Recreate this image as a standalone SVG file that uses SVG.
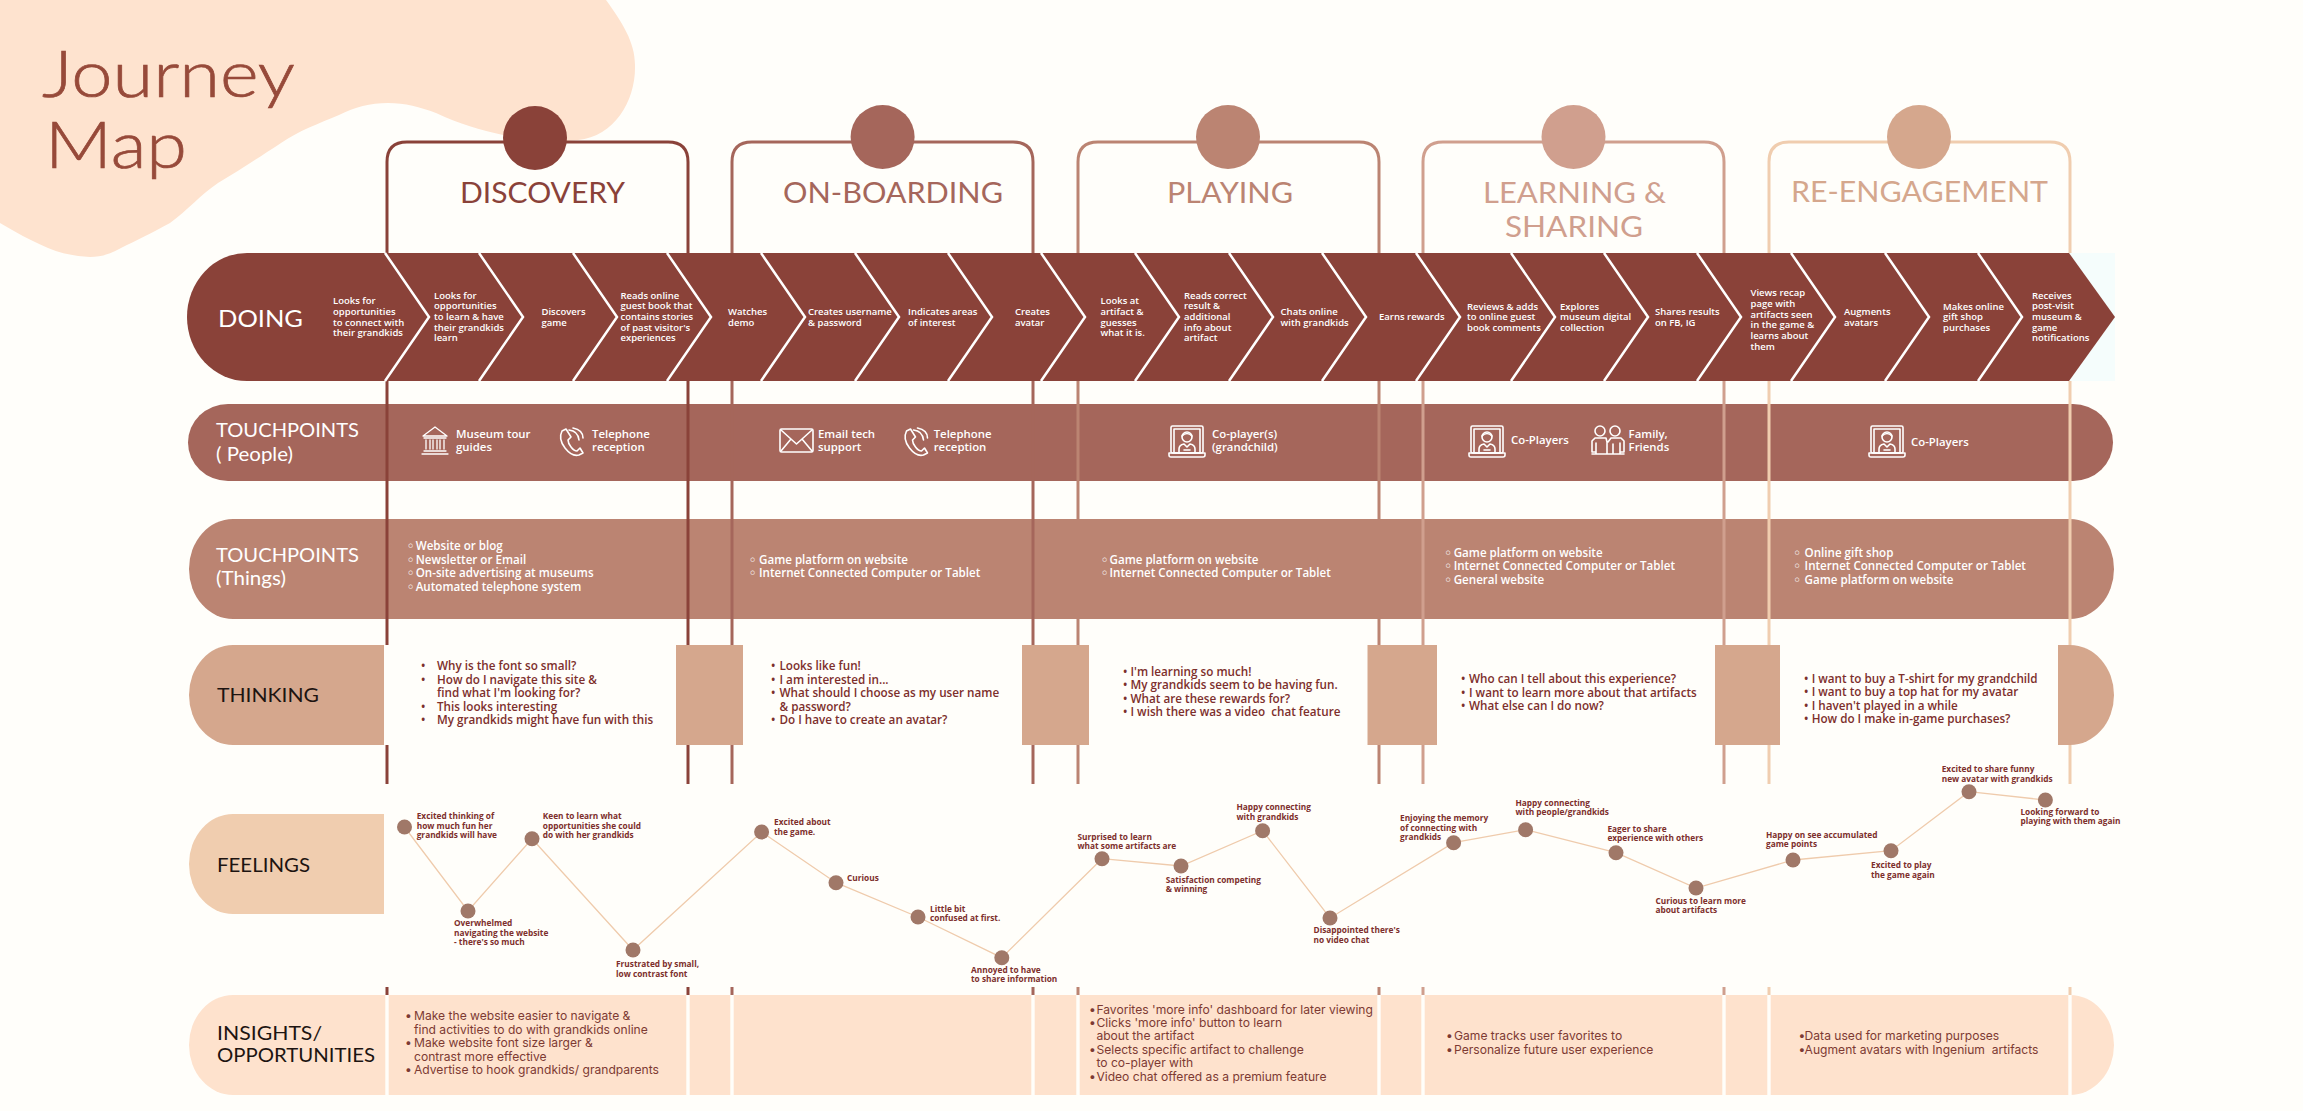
<svg xmlns="http://www.w3.org/2000/svg" xmlns:xlink="http://www.w3.org/1999/xlink" width="2303" height="1111" viewBox="0 0 2303 1111">
<style>
text{font-family:"Open Sans","Noto Sans","Liberation Sans",sans-serif}
.h{font-family:Lato,"Liberation Sans",sans-serif;font-size:29px;font-weight:400}
.lab{font-family:Lato,"Liberation Sans",sans-serif;font-size:18.500px;font-weight:400;fill:#1d1411}
.big{font-size:23px}
.w{fill:#fff}
.ttl{font-family:Lato,sans-serif;font-size:66px;font-weight:300;fill:#974a3a;stroke:#974a3a;stroke-width:.7}
.d{font-size:9.500px;font-weight:600;fill:#fff}
.tp{font-size:11.400px;font-weight:600;fill:#fff}
.th{font-size:11.600px;font-weight:600;fill:#fff}
.tk{font-size:11.700px;font-weight:600;fill:#7d2f2c}
.f{font-size:8.300px;font-weight:700;fill:#7d2f2c}
.in{font-family:Inter,"Noto Sans",sans-serif;font-size:12.100px;font-weight:400;fill:#7d3a33}
.b{font-family:"DejaVu Sans",sans-serif}
.ic{fill:none;stroke:#fff;stroke-width:1.600;stroke-linejoin:round;stroke-linecap:round}
.sep{fill:none;stroke:#fff;stroke-width:2.500}
.c1{stroke:#8a4239}.c2{stroke:#a5665b}.c3{stroke:#bb8472}.c4{stroke:#d09f8e}.c5{stroke:#f0cdaf}
.ln{fill:none;stroke-width:3}
.wl{stroke:#fffefa;stroke-width:3.400}
.dot{fill:#a07868}
</style>
<defs>
<g id="avatar" class="ic">
<rect x="2" y="0" width="32" height="27" rx="1.500"/>
<rect x="5" y="3" width="26" height="24"/>
<path d="M0 27H36V29Q36 31 34 31H2Q0 31 0 29Z"/>
<circle cx="18" cy="11" r="5"/>
<path d="M13 10Q18 5 23 10M10 27V23Q10 19 15 18L18 21L21 18Q26 19 26 23V27M15 24H21"/>
</g>
<g id="phone" class="ic">
<path d="M5 3L9 1L14 9L11 12Q11 15 14 19Q17 23 20 23L23 20L26 25L22 27Q15 29 8 20Q1 11 5 3Z"/>
<path d="M12 2Q21 3 22 12M16 0Q26 2 26 10"/>
</g>
</defs>
<rect width="2303" height="1111" fill="#fffefa"/>
<g id="title">
<path d="M0 0H606C622 22 635 42 635 65C636 100 615 136 578 140C555 143 530 141 503 135C480 130 460 124 436 113C420 107 405 103 388 103C370 103 355 107 339 115C318 124 300 130 281 143C258 158 240 170 218 183C200 195 188 210 170 223C152 233 137 240 121 248C108 255 100 257 90 257C75 256 62 254 48 248C30 240 15 232 0 223Z" fill="#fee3cf"/>
<text class="ttl" x="42" y="97" textLength="253" lengthAdjust="spacingAndGlyphs">Journey</text>
<text class="ttl" x="45" y="168" textLength="142" lengthAdjust="spacingAndGlyphs">Map</text>
</g>
<g id="band-people"><path d="M228 404H2073A40 38.500 0 0 1 2073 481H228A40 38.500 0 0 1 228 404Z" fill="#a5665b"/>
<text class="lab w" x="216" y="437" textLength="143" lengthAdjust="spacingAndGlyphs">TOUCHPOINTS</text>
<text class="lab w" x="216" y="460.500" textLength="77" lengthAdjust="spacingAndGlyphs">( People)</text>
</g>
<g id="band-things"><path d="M233 519H2070A44 50 0 0 1 2070 619H233A44 50 0 0 1 233 519Z" fill="#bb8472"/>
<text class="lab w" x="216" y="562" textLength="143" lengthAdjust="spacingAndGlyphs">TOUCHPOINTS</text>
<text class="lab w" x="216" y="585" textLength="70" lengthAdjust="spacingAndGlyphs">(Things)</text>
</g>
<g id="connectors">
<g id="stage-lines" class="ln">
<path class="ln c1" d="M387 253V162Q387 142 407 142H668Q688 142 688 162V253M387 381V645M688 381V645M387 745V784M688 745V784M387 987V995M688 987V995"/>
<path class="ln c2" d="M732 253V162Q732 142 752 142H1013Q1033 142 1033 162V253M732 381V645M1033 381V645M732 745V784M1033 745V784M732 987V995M1033 987V995"/>
<path class="ln c3" d="M1078 253V162Q1078 142 1098 142H1359Q1379 142 1379 162V253M1078 381V645M1379 381V645M1078 745V784M1379 745V784M1078 987V995M1379 987V995"/>
<path class="ln c4" d="M1423 253V162Q1423 142 1443 142H1704Q1724 142 1724 162V253M1423 381V645M1724 381V645M1423 745V784M1724 745V784M1423 987V995M1724 987V995"/>
<path class="ln c5" d="M1769 253V162Q1769 142 1789 142H2050Q2070 142 2070 162V253M1769 381V645M2070 381V645M1769 745V784M2070 745V784M1769 987V995M2070 987V995"/>
</g>
<polyline id="feeling-curve" points="404.500,827 468,911 532,838.700 633,950 761.600,832 836,882.700 918,917 1001.800,957.700 1102,858.700 1181,866 1262.600,830.700 1330,918 1453.600,842.700 1525.600,829.700 1616,852.700 1696,888 1793,860 1891,850.700 1969,791.700 2045.400,800" fill="none" stroke="#efcbac" stroke-width="1.300"/>
</g>
<g id="stage-discovery"><circle cx="535" cy="138" r="32" fill="#8a4239"/><text class="h" x="460" y="203" fill="#8a4239" textLength="165" lengthAdjust="spacingAndGlyphs">DISCOVERY</text></g>
<g id="stage-onboarding"><circle cx="882.600" cy="137" r="32" fill="#a5665b"/><text class="h" x="783" y="203" fill="#a5665b" textLength="220" lengthAdjust="spacingAndGlyphs">ON-BOARDING</text></g>
<g id="stage-playing"><circle cx="1228" cy="137" r="32" fill="#bb8472"/><text class="h" x="1167" y="203" fill="#bb8472" textLength="126" lengthAdjust="spacingAndGlyphs">PLAYING</text></g>
<g id="stage-learning"><circle cx="1573.500" cy="137" r="32" fill="#d09f8e"/><text class="h" x="1483" y="203" fill="#d09f8e" textLength="183" lengthAdjust="spacingAndGlyphs">LEARNING &amp;</text><text class="h" x="1505" y="237" fill="#d09f8e" textLength="138" lengthAdjust="spacingAndGlyphs">SHARING</text></g>
<g id="stage-reengagement"><circle cx="1919" cy="137" r="32" fill="#d5a78d"/><text class="h" x="1791" y="202" fill="#d5a78d" textLength="257" lengthAdjust="spacingAndGlyphs">RE-ENGAGEMENT</text></g>
<g id="band-doing">
<path d="M2069 253L2115 253V381H2069Z" fill="#f5fdfc"/>
<path d="M247 253H2069L2115 317L2069 381H247A60 64 0 0 1 247 253Z" fill="#8a4239"/>
<path class="sep" d="M385 253L429 317L385 381M479 253L523 317L479 381M573 253L617 317L573 381M667 253L711 317L667 381M761 253L805 317L761 381M855 253L899 317L855 381M948 253L992 317L948 381M1041 253L1085 317L1041 381M1135 253L1179 317L1135 381M1229 253L1273 317L1229 381M1322 253L1366 317L1322 381M1416 253L1460 317L1416 381M1511 253L1555 317L1511 381M1604 253L1648 317L1604 381M1697 253L1741 317L1697 381M1791 253L1835 317L1791 381M1885 253L1929 317L1885 381M1978 253L2022 317L1978 381"/>
<text class="lab big w" x="218" y="327" textLength="85" lengthAdjust="spacingAndGlyphs">DOING</text>
<text class="d"><tspan x="333" y="304">Looks for</tspan><tspan x="333" y="315">opportunities</tspan><tspan x="333" y="325.700">to connect with</tspan><tspan x="333" y="336.400">their grandkids</tspan></text>
<text class="d"><tspan x="434" y="298.700">Looks for</tspan><tspan x="434" y="309.400">opportunities</tspan><tspan x="434" y="320">to learn &amp; have</tspan><tspan x="434" y="330.700">their grandkids</tspan><tspan x="434" y="341.400">learn</tspan></text>
<text class="d"><tspan x="541.500" y="315">Discovers</tspan><tspan x="541.500" y="325.700">game</tspan></text>
<text class="d"><tspan x="620.500" y="298.700">Reads online</tspan><tspan x="620.500" y="309.400">guest book that</tspan><tspan x="620.500" y="320">contains stories</tspan><tspan x="620.500" y="330.700">of past visitor's</tspan><tspan x="620.500" y="341.400">experiences</tspan></text>
<text class="d"><tspan x="728" y="315">Watches</tspan><tspan x="728" y="325.700">demo</tspan></text>
<text class="d"><tspan x="808" y="315">Creates username</tspan><tspan x="808" y="325.700">&amp; password</tspan></text>
<text class="d"><tspan x="908" y="315">Indicates areas</tspan><tspan x="908" y="325.700">of interest</tspan></text>
<text class="d"><tspan x="1015" y="315">Creates</tspan><tspan x="1015" y="325.700">avatar</tspan></text>
<text class="d"><tspan x="1100.500" y="304">Looks at</tspan><tspan x="1100.500" y="315">artifact &amp;</tspan><tspan x="1100.500" y="325.700">guesses</tspan><tspan x="1100.500" y="336.400">what it is.</tspan></text>
<text class="d"><tspan x="1184" y="298.700">Reads correct</tspan><tspan x="1184" y="309.400">result &amp;</tspan><tspan x="1184" y="320">additional</tspan><tspan x="1184" y="330.700">info about</tspan><tspan x="1184" y="341.400">artifact</tspan></text>
<text class="d"><tspan x="1280.600" y="315">Chats online</tspan><tspan x="1280.600" y="325.700">with grandkids</tspan></text>
<text class="d" x="1379" y="320">Earns rewards</text>
<text class="d"><tspan x="1467" y="309.700">Reviews &amp; adds</tspan><tspan x="1467" y="320.400">to online guest</tspan><tspan x="1467" y="331">book comments</tspan></text>
<text class="d"><tspan x="1560" y="309.700">Explores</tspan><tspan x="1560" y="320.400">museum digital</tspan><tspan x="1560" y="331">collection</tspan></text>
<text class="d"><tspan x="1655" y="315">Shares results</tspan><tspan x="1655" y="325.700">on FB, IG</tspan></text>
<text class="d"><tspan x="1750.500" y="296">Views recap</tspan><tspan x="1750.500" y="306.800">page with</tspan><tspan x="1750.500" y="317.500">artifacts seen</tspan><tspan x="1750.500" y="328.200">in the game &amp;</tspan><tspan x="1750.500" y="339">learns about</tspan><tspan x="1750.500" y="349.700">them</tspan></text>
<text class="d"><tspan x="1844" y="315">Augments</tspan><tspan x="1844" y="325.700">avatars</tspan></text>
<text class="d"><tspan x="1943" y="309.700">Makes online</tspan><tspan x="1943" y="320.400">gift shop</tspan><tspan x="1943" y="331">purchases</tspan></text>
<text class="d"><tspan x="2032" y="298.700">Receives</tspan><tspan x="2032" y="309.400">post-visit</tspan><tspan x="2032" y="320">museum &amp;</tspan><tspan x="2032" y="330.700">game</tspan><tspan x="2032" y="341.400">notifications</tspan></text>
</g>
<g id="people-items">
<g id="icon-museum" class="ic" style="stroke-width:1.300"><path d="M423 436L435 427L447 436ZM424 438H446M426 440V449M430 440V449M433 440V449M437 440V449M440 440V449M444 440V449M424 451H446M422 454H448"/></g>
<text class="tp"><tspan x="456" y="437.500">Museum tour</tspan><tspan x="456" y="451">guides</tspan></text>
<use xlink:href="#phone" href="#phone" x="557" y="428"/>
<text class="tp"><tspan x="592" y="437.500">Telephone</tspan><tspan x="592" y="451">reception</tspan></text>
<g id="icon-mail" class="ic"><rect x="780" y="429" width="33" height="23" rx="1.500"/><path d="M781 430L796.500 444L812 430M781 451L791 439M812 451L802 439"/></g>
<text class="tp"><tspan x="818" y="437.500">Email tech</tspan><tspan x="818" y="451">support</tspan></text>
<use xlink:href="#phone" href="#phone" x="901.500" y="428"/>
<text class="tp"><tspan x="933.700" y="437.500">Telephone</tspan><tspan x="933.700" y="451">reception</tspan></text>
<use xlink:href="#avatar" href="#avatar" x="1169" y="426"/>
<text class="tp"><tspan x="1212" y="437.500">Co-player(s)</tspan><tspan x="1212" y="451">(grandchild)</tspan></text>
<use xlink:href="#avatar" href="#avatar" x="1469" y="426"/>
<text class="tp" x="1511" y="444">Co-Players</text>
<g id="icon-family" class="ic"><circle cx="1600" cy="431" r="5"/><circle cx="1615" cy="431" r="5"/><path d="M1595 438H1606L1607 442V454M1621 438H1611L1608 442M1595 438L1592 441V452H1596V443M1596 443V454M1620 443V454M1624 441V452H1620M1621 438L1624 441M1592 454H1624M1613 444V454"/></g>
<text class="tp"><tspan x="1628.600" y="437.500">Family,</tspan><tspan x="1628.600" y="451">Friends</tspan></text>
<use xlink:href="#avatar" href="#avatar" x="1869" y="426"/>
<text class="tp" x="1911" y="446">Co-Players</text>
</g>
<g id="things-items">
<text class="th"><tspan class="b" x="407" y="550">◦</tspan><tspan x="415.700" y="550">Website or blog</tspan><tspan class="b" x="407" y="563.500">◦</tspan><tspan x="415.700" y="563.500">Newsletter or Email</tspan><tspan class="b" x="407" y="577">◦</tspan><tspan x="415.700" y="577">On-site advertising at museums</tspan><tspan class="b" x="407" y="590.500">◦</tspan><tspan x="415.700" y="590.500">Automated telephone system</tspan></text>
<text class="th"><tspan class="b" x="749" y="563.500">◦</tspan><tspan x="759" y="563.500">Game platform on website</tspan><tspan class="b" x="749" y="577">◦</tspan><tspan x="759" y="577">Internet Connected Computer or Tablet</tspan></text>
<text class="th"><tspan class="b" x="1101" y="563.500">◦</tspan><tspan x="1109.500" y="563.500">Game platform on website</tspan><tspan class="b" x="1101" y="577">◦</tspan><tspan x="1109.500" y="577">Internet Connected Computer or Tablet</tspan></text>
<text class="th"><tspan class="b" x="1444.600" y="556.700">◦</tspan><tspan x="1453.700" y="556.700">Game platform on website</tspan><tspan class="b" x="1444.600" y="570">◦</tspan><tspan x="1453.700" y="570">Internet Connected Computer or Tablet</tspan><tspan class="b" x="1444.600" y="583.500">◦</tspan><tspan x="1453.700" y="583.500">General website</tspan></text>
<text class="th"><tspan class="b" x="1793.600" y="556.700">◦</tspan><tspan x="1804.600" y="556.700">Online gift shop</tspan><tspan class="b" x="1793.600" y="570">◦</tspan><tspan x="1804.600" y="570">Internet Connected Computer or Tablet</tspan><tspan class="b" x="1793.600" y="583.500">◦</tspan><tspan x="1804.600" y="583.500">Game platform on website</tspan></text>
</g>
<g id="band-thinking" fill="#d5a78d">
<path d="M384 645V745H233A44 50 0 0 1 233 645Z"/>
<rect x="676" y="645" width="67" height="100"/><rect x="1022" y="645" width="67" height="100"/><rect x="1367.500" y="645" width="69.500" height="100"/><rect x="1715" y="645" width="65" height="100"/>
<path d="M2058 645H2070A44 50 0 0 1 2070 745H2058Z"/>
<text class="lab" x="217" y="702" textLength="102" lengthAdjust="spacingAndGlyphs">THINKING</text>
</g>
<g id="thinking-items">
<text class="tk"><tspan x="421" y="670">•</tspan><tspan x="437" y="670">Why is the font so small?</tspan><tspan x="421" y="684">•</tspan><tspan x="437" y="684">How do I navigate this site &amp;</tspan><tspan x="437" y="697">find what I'm looking for?</tspan><tspan x="421" y="710.500">•</tspan><tspan x="437" y="710.500">This looks interesting</tspan><tspan x="421" y="724">•</tspan><tspan x="437" y="724">My grandkids might have fun with this</tspan></text>
<text class="tk"><tspan x="771" y="670">•</tspan><tspan x="779.500" y="670">Looks like fun!</tspan><tspan x="771" y="684">•</tspan><tspan x="779.500" y="684">I am interested in...</tspan><tspan x="771" y="697">•</tspan><tspan x="779.500" y="697">What should I choose as my user name</tspan><tspan x="779.500" y="710.500">&amp; password?</tspan><tspan x="771" y="724">•</tspan><tspan x="779.500" y="724">Do I have to create an avatar?</tspan></text>
<text class="tk"><tspan x="1123" y="675.700">•</tspan><tspan x="1130.500" y="675.700">I'm learning so much!</tspan><tspan x="1123" y="689">•</tspan><tspan x="1130.500" y="689">My grandkids seem to be having fun.</tspan><tspan x="1123" y="702.500">•</tspan><tspan x="1130.500" y="702.500">What are these rewards for?</tspan><tspan x="1123" y="716">•</tspan><tspan x="1130.500" y="716" xml:space="preserve">I wish there was a video  chat feature</tspan></text>
<text class="tk"><tspan x="1461" y="683">•</tspan><tspan x="1469" y="683">Who can I tell about this experience?</tspan><tspan x="1461" y="697">•</tspan><tspan x="1469" y="697">I want to learn more about that artifacts</tspan><tspan x="1461" y="710">•</tspan><tspan x="1469" y="710">What else can I do now?</tspan></text>
<text class="tk"><tspan x="1804" y="682.700">•</tspan><tspan x="1811.700" y="682.700">I want to buy a T-shirt for my grandchild</tspan><tspan x="1804" y="696">•</tspan><tspan x="1811.700" y="696">I want to buy a top hat for my avatar</tspan><tspan x="1804" y="709.500">•</tspan><tspan x="1811.700" y="709.500">I haven't played in a while</tspan><tspan x="1804" y="723">•</tspan><tspan x="1811.700" y="723">How do I make in-game purchases?</tspan></text>
</g>
<g id="band-feelings"><path d="M384 814V914H233A44 50 0 0 1 233 814Z" fill="#f0cdaf"/><text class="lab" x="217" y="872" textLength="93" lengthAdjust="spacingAndGlyphs">FEELINGS</text></g>
<g id="feeling-dots" class="dot">
<circle cx="404.500" cy="827" r="7.500"/><circle cx="468" cy="911" r="7.500"/><circle cx="532" cy="838.700" r="7.500"/><circle cx="633" cy="950" r="7.500"/><circle cx="761.600" cy="832" r="7.500"/><circle cx="836" cy="882.700" r="7.500"/><circle cx="918" cy="917" r="7.500"/><circle cx="1001.800" cy="957.700" r="7.500"/><circle cx="1102" cy="858.700" r="7.500"/><circle cx="1181" cy="866" r="7.500"/><circle cx="1262.600" cy="830.700" r="7.500"/><circle cx="1330" cy="918" r="7.500"/><circle cx="1453.600" cy="842.700" r="7.500"/><circle cx="1525.600" cy="829.700" r="7.500"/><circle cx="1616" cy="852.700" r="7.500"/><circle cx="1696" cy="888" r="7.500"/><circle cx="1793" cy="860" r="7.500"/><circle cx="1891" cy="850.700" r="7.500"/><circle cx="1969" cy="791.700" r="7.500"/><circle cx="2045.400" cy="800" r="7.500"/>
</g>
<g id="feeling-labels">
<text class="f"><tspan x="416.700" y="819">Excited thinking of</tspan><tspan x="416.700" y="828.500">how much fun her</tspan><tspan x="416.700" y="838">grandkids will have</tspan></text>
<text class="f"><tspan x="542.800" y="819">Keen to learn what</tspan><tspan x="542.800" y="828.500">opportunities she could</tspan><tspan x="542.800" y="838">do with her grandkids</tspan></text>
<text class="f"><tspan x="454" y="926">Overwhelmed</tspan><tspan x="454" y="935.500">navigating the website</tspan><tspan x="454" y="945">- there's so much</tspan></text>
<text class="f"><tspan x="616" y="967">Frustrated by small,</tspan><tspan x="616" y="977">low contrast font</tspan></text>
<text class="f"><tspan x="774" y="825.300">Excited about</tspan><tspan x="774" y="835">the game.</tspan></text>
<text class="f" x="847" y="880.700">Curious</text>
<text class="f"><tspan x="930" y="911.700">Little bit</tspan><tspan x="930" y="921">confused at first.</tspan></text>
<text class="f"><tspan x="971" y="973">Annoyed to have</tspan><tspan x="971" y="982">to share information</tspan></text>
<text class="f"><tspan x="1077.500" y="840">Surprised to learn</tspan><tspan x="1077.500" y="849">what some artifacts are</tspan></text>
<text class="f"><tspan x="1165.700" y="882.700">Satisfaction competing</tspan><tspan x="1165.700" y="892">&amp; winning</tspan></text>
<text class="f"><tspan x="1236.400" y="810.300">Happy connecting</tspan><tspan x="1236.400" y="819.600">with grandkids</tspan></text>
<text class="f"><tspan x="1313.500" y="933.300">Disappointed there's</tspan><tspan x="1313.500" y="942.600">no video chat</tspan></text>
<text class="f"><tspan x="1400" y="821">Enjoying the memory</tspan><tspan x="1400" y="830.500">of connecting with</tspan><tspan x="1400" y="840">grandkids</tspan></text>
<text class="f"><tspan x="1515.500" y="805.700">Happy connecting</tspan><tspan x="1515.500" y="815">with people/grandkids</tspan></text>
<text class="f"><tspan x="1607.400" y="832.300">Eager to share</tspan><tspan x="1607.400" y="841.300">experience with others</tspan></text>
<text class="f"><tspan x="1655.400" y="903.700">Curious to learn more</tspan><tspan x="1655.400" y="913">about artifacts</tspan></text>
<text class="f"><tspan x="1766" y="837.700">Happy on see accumulated</tspan><tspan x="1766" y="847">game points</tspan></text>
<text class="f"><tspan x="1871" y="868.300">Excited to play</tspan><tspan x="1871" y="878">the game again</tspan></text>
<text class="f"><tspan x="1941.700" y="772.300">Excited to share funny</tspan><tspan x="1941.700" y="782">new avatar with grandkids</tspan></text>
<text class="f"><tspan x="2020.400" y="814.700">Looking forward to</tspan><tspan x="2020.400" y="824">playing with them again</tspan></text>
</g>
<g id="band-insights">
<path d="M233 995H2070A44 50 0 0 1 2070 1095H233A44 50 0 0 1 233 995Z" fill="#fee2cd"/>
<path class="wl" d="M387 995V1095M688 995V1095M732 995V1095M1033 995V1095M1078 995V1095M1379 995V1095M1423 995V1095M1724 995V1095M1769 995V1095M2070 995V1095"/>
<text class="lab" x="217" y="1040" textLength="105" lengthAdjust="spacingAndGlyphs">INSIGHTS/</text>
<text class="lab" x="217" y="1062" textLength="158" lengthAdjust="spacingAndGlyphs">OPPORTUNITIES</text>
</g>
<g id="insight-items">
<text class="in"><tspan x="405" y="1020">•</tspan><tspan x="414" y="1020">Make the website easier to navigate &amp;</tspan><tspan x="414" y="1033.600">find activities to do with grandkids online</tspan><tspan x="405" y="1047">•</tspan><tspan x="414" y="1047">Make website font size larger &amp;</tspan><tspan x="414" y="1060.600">contrast more effective</tspan><tspan x="405" y="1074">•</tspan><tspan x="414" y="1074">Advertise to hook grandkids/ grandparents</tspan></text>
<text class="in"><tspan x="1089" y="1013.700">•</tspan><tspan x="1096.400" y="1013.700">Favorites 'more info' dashboard for later viewing</tspan><tspan x="1089" y="1027">•</tspan><tspan x="1096.400" y="1027">Clicks 'more info' button to learn</tspan><tspan x="1096.400" y="1040.300">about the artifact</tspan><tspan x="1089" y="1054">•</tspan><tspan x="1096.400" y="1054">Selects specific artifact to challenge</tspan><tspan x="1096.400" y="1067.300">to co-player with</tspan><tspan x="1089" y="1080.700">•</tspan><tspan x="1096.400" y="1080.700">Video chat offered as a premium feature</tspan></text>
<text class="in"><tspan x="1446" y="1040.300">•</tspan><tspan x="1454" y="1040.300">Game tracks user favorites to</tspan><tspan x="1446" y="1054">•</tspan><tspan x="1454" y="1054">Personalize future user experience</tspan></text>
<text class="in"><tspan x="1798.500" y="1040.300">•</tspan><tspan x="1804.600" y="1040.300">Data used for marketing purposes</tspan><tspan x="1798.500" y="1054">•</tspan><tspan x="1804.600" y="1054" xml:space="preserve">Augment avatars with Ingenium  artifacts</tspan></text>
</g>
</svg>
